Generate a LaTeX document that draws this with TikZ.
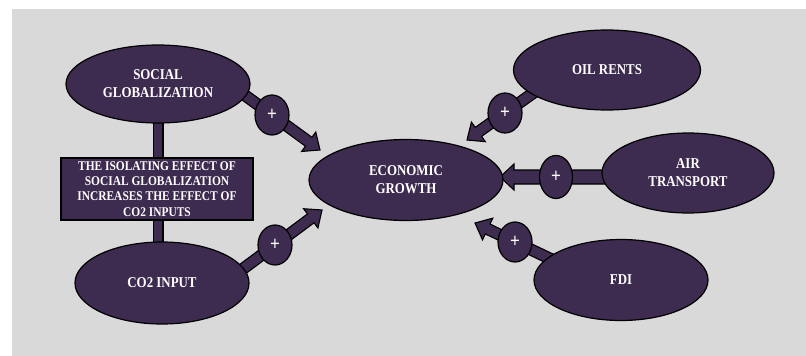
\documentclass[tikz,border=0pt]{standalone}
\usepackage{fontspec}
\setmainfont{Liberation Serif}[FakeStretch=0.86]
\usetikzlibrary{shapes.geometric,calc}
\definecolor{purp}{HTML}{3E2B50}
\definecolor{bggray}{HTML}{D9D9D9}
\tikzset{
  oval/.style={ellipse, fill=purp, draw=black, line width=1.2pt, inner sep=0pt,
    text=white, align=center, font=\bfseries\fontsize{15}{18}\selectfont},
  plusmark/.style={ellipse, fill=purp, draw=black, line width=1.2pt, inner sep=0pt,
    minimum width=34pt, minimum height=40pt, text=white, font=\bfseries\fontsize{20}{20}\selectfont},
  notebox/.style={rectangle, fill=purp, draw=black, line width=2.6pt, inner sep=0pt,
    minimum width=192pt, minimum height=62pt, text=white, align=center,
    font=\bfseries\fontsize{13.3}{15.3}\selectfont},
  fatbody/.style={fill=purp, draw=black, line width=1.1pt, line join=miter},
}
% #1 circle node, #2 tip coordinate, #3 shaft half width, #4 head half width, #5 head length
\newcommand\fatarrowdraw[5]{%
  \coordinate (fa-s) at ($(#1)!-1.3!(#2)$);
  \coordinate (fa-h) at ($(#2)!#5!(#1)$);
  \filldraw[fatbody] ($(fa-s)!#3!90:(#2)$) -- ($(fa-h)!#3!90:(#2)$) -- ($(fa-h)!#4!90:(#2)$)
    -- (#2) -- ($(fa-h)!#4!-90:(#2)$) -- ($(fa-h)!#3!-90:(#2)$) -- ($(fa-s)!#3!-90:(#2)$) -- cycle;
}
\begin{document}
\begin{tikzpicture}[x=1pt,y=-1pt]
\useasboundingbox (0,0) rectangle (806,356);
\fill[white] (0,0) rectangle (806,356);
\fill[bggray] (12,9) rectangle (806,356);

% positions of plus marks and arrow tips
\coordinate (t1) at (320,150);
\coordinate (t2) at (322,210);
\coordinate (t3) at (467,140);
\coordinate (t4) at (500,177);
\coordinate (t5) at (475,223);
\coordinate (c1) at (272,115);
\coordinate (c2) at (275,245);
\coordinate (c3) at (505,113);
\coordinate (c4) at (556,177);
\coordinate (c5) at (515,242);

\coordinate (sgc) at (158,84);
\coordinate (boxc) at (157,189);
\coordinate (co2c) at (162,283);

% vertical bars
\draw[line width=11pt, black] (158,110) -- (158,170);
\draw[line width=8.5pt, purp] (158,110) -- (158,170);
\draw[line width=11pt, black] (158,210) -- (158,260);
\draw[line width=8.5pt, purp] (158,210) -- (158,260);

% fat arrows
\fatarrowdraw{c1}{t1}{5.5pt}{12pt}{14pt}
\fatarrowdraw{c2}{t2}{5.5pt}{12pt}{14pt}
\fatarrowdraw{c3}{t3}{5.5pt}{12pt}{14pt}
\fatarrowdraw{c4}{t4}{7pt}{13pt}{14pt}
\fatarrowdraw{c5}{t5}{5.5pt}{12pt}{14pt}

% ellipses
\node[oval, minimum width=184pt, minimum height=78pt] (sg) at (sgc) {SOCIAL\\GLOBALIZATION};
\node[oval, minimum width=174pt, minimum height=82pt] (co2) at (co2c) {CO2 INPUT};
\node[oval, minimum width=194pt, minimum height=81pt] (eg) at (406,180) {ECONOMIC\\GROWTH};
\node[oval, minimum width=187pt, minimum height=80pt] (oil) at (607,70) {OIL RENTS};
\node[oval, minimum width=172pt, minimum height=80pt] (air) at (688,173) {AIR\\TRANSPORT};
\node[oval, minimum width=174pt, minimum height=81pt] (fdi) at (621,280) {FDI};

% box
\node[notebox] (box) at (boxc) {THE ISOLATING EFFECT OF\\SOCIAL GLOBALIZATION\\INCREASES THE EFFECT OF\\CO2 INPUTS};

% plus marks
\node[plusmark] (p1) at (c1) {+};
\node[plusmark] (p2) at (c2) {+};
\node[plusmark] (p3) at (c3) {+};
\node[plusmark, minimum width=33pt, minimum height=43pt] (p4) at (c4) {+};
\node[plusmark] (p5) at (c5) {+};
\end{tikzpicture}
\end{document}
